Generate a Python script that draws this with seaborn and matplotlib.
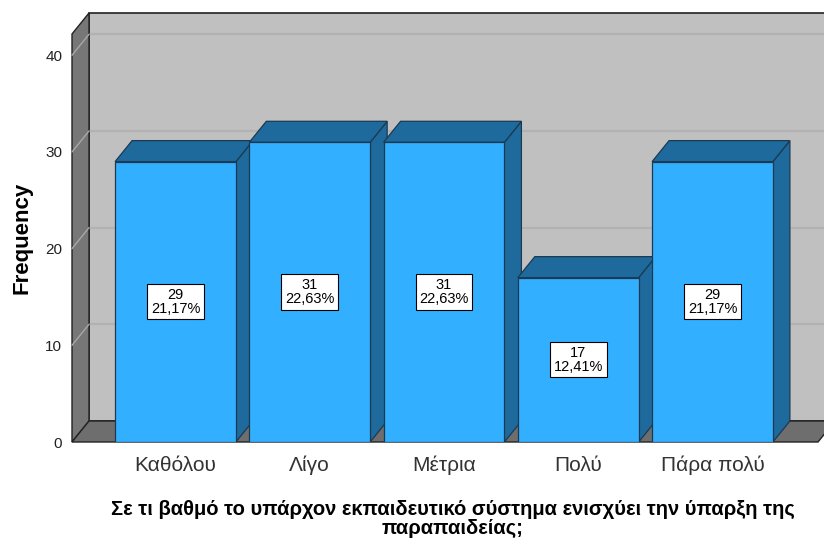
import matplotlib
matplotlib.use('Agg')
import matplotlib.pyplot as plt
from matplotlib.patches import Polygon
import seaborn as sns

categories = ['Καθόλου', 'Λίγο', 'Μέτρια', 'Πολύ', 'Πάρα πολύ']
counts = [29, 31, 31, 17, 29]
percents = ['21,17%', '22,63%', '22,63%', '12,41%', '21,17%']
yticks = [0, 10, 20, 30, 40]

sns.set_style('white')
plt.rcParams['font.family'] = ['Liberation Sans', 'DejaVu Sans']

fig = plt.figure(figsize=(8.24, 5.38), dpi=100)
ax = fig.add_axes([72 / 824, (538 - 442) / 538, (818 - 72) / 824, (442 - 34) / 538])

xmin, xmax = -0.771, 4.786
ymax = 42.2

bw = 0.9
sns.barplot(x=categories, y=counts, color='#33AFFF', saturation=1, width=bw,
            edgecolor='#1B3A52', linewidth=0.9, zorder=3, ax=ax)
ax.set_xlim(xmin, xmax)
ax.set_ylim(0, ymax)

# depth offset in data units (17px right, 21px up)
DX = 17 / ((818 - 72) / (xmax - xmin))
DY = 21 / ((442 - 34) / ymax)

wall = '#C0C0C0'
side = '#777777'
edge = '#222222'

# back wall
ax.add_patch(Polygon([(xmin + DX, DY), (xmax + 1, DY), (xmax + 1, ymax + DY), (xmin + DX, ymax + DY)],
                     closed=True, facecolor=wall, edgecolor=edge, lw=1.2, clip_on=False, zorder=0))
for v in yticks[1:]:
    ax.plot([xmin + DX, xmax + 1], [v + DY, v + DY], color='#B2B2B2', lw=1.6, clip_on=False, zorder=0.5)
# left wall
ax.add_patch(Polygon([(xmin, 0), (xmin + DX, DY), (xmin + DX, ymax + DY), (xmin, ymax)],
                     closed=True, facecolor=side, edgecolor=edge, lw=1, clip_on=False, zorder=1))
for v in yticks[1:]:
    ax.plot([xmin, xmin + DX], [v, v + DY], color='#A8A8A8', lw=1, clip_on=False, zorder=1.2)
# floor
ax.add_patch(Polygon([(xmin, 0), (xmax, 0), (xmax + DX, DY), (xmin + DX, DY)],
                     closed=True, facecolor='#6E6E6E', edgecolor=edge, lw=1, clip_on=False, zorder=1))

dark = '#1F6A9C'
for i, c in enumerate(counts):
    l, r = i - bw / 2, i + bw / 2
    ax.add_patch(Polygon([(r, 0), (r + DX, DY), (r + DX, c + DY), (r, c)], closed=True,
                         facecolor=dark, edgecolor='#1B3A52', lw=0.9, zorder=2))
    ax.add_patch(Polygon([(l, c), (l + DX, c + DY), (r + DX, c + DY), (r, c)], closed=True,
                         facecolor=dark, edgecolor='#1B3A52', lw=0.9, zorder=2.5, clip_on=False))
    ax.text(i, c / 2, f'{c}\n{percents[i]}', ha='center', va='center', fontsize=10.5,
            linespacing=1.0, zorder=5, color='black',
            bbox=dict(boxstyle='square,pad=0.25', facecolor='white', edgecolor='black', lw=0.8))

for s in ax.spines.values():
    s.set_visible(False)
ax.set_yticks(yticks)
ax.tick_params(axis='y', length=0, pad=7, labelsize=11, labelcolor='#222222')
ax.tick_params(axis='x', length=0, pad=10, labelsize=15, labelcolor='#333333')
ax.set_ylabel('Frequency', fontsize=16, fontweight='bold', labelpad=9, color='black')
ax.set_xlabel('Σε τι βαθμό το υπάρχον εκπαιδευτικό σύστημα ενισχύει την ύπαρξη της\nπαραπαιδείας;',
              fontsize=14.5, fontweight='bold', linespacing=0.95, labelpad=18, color='black')
ax.xaxis.label.set_x(0.51)

fig.savefig('out.png', dpi=100)
